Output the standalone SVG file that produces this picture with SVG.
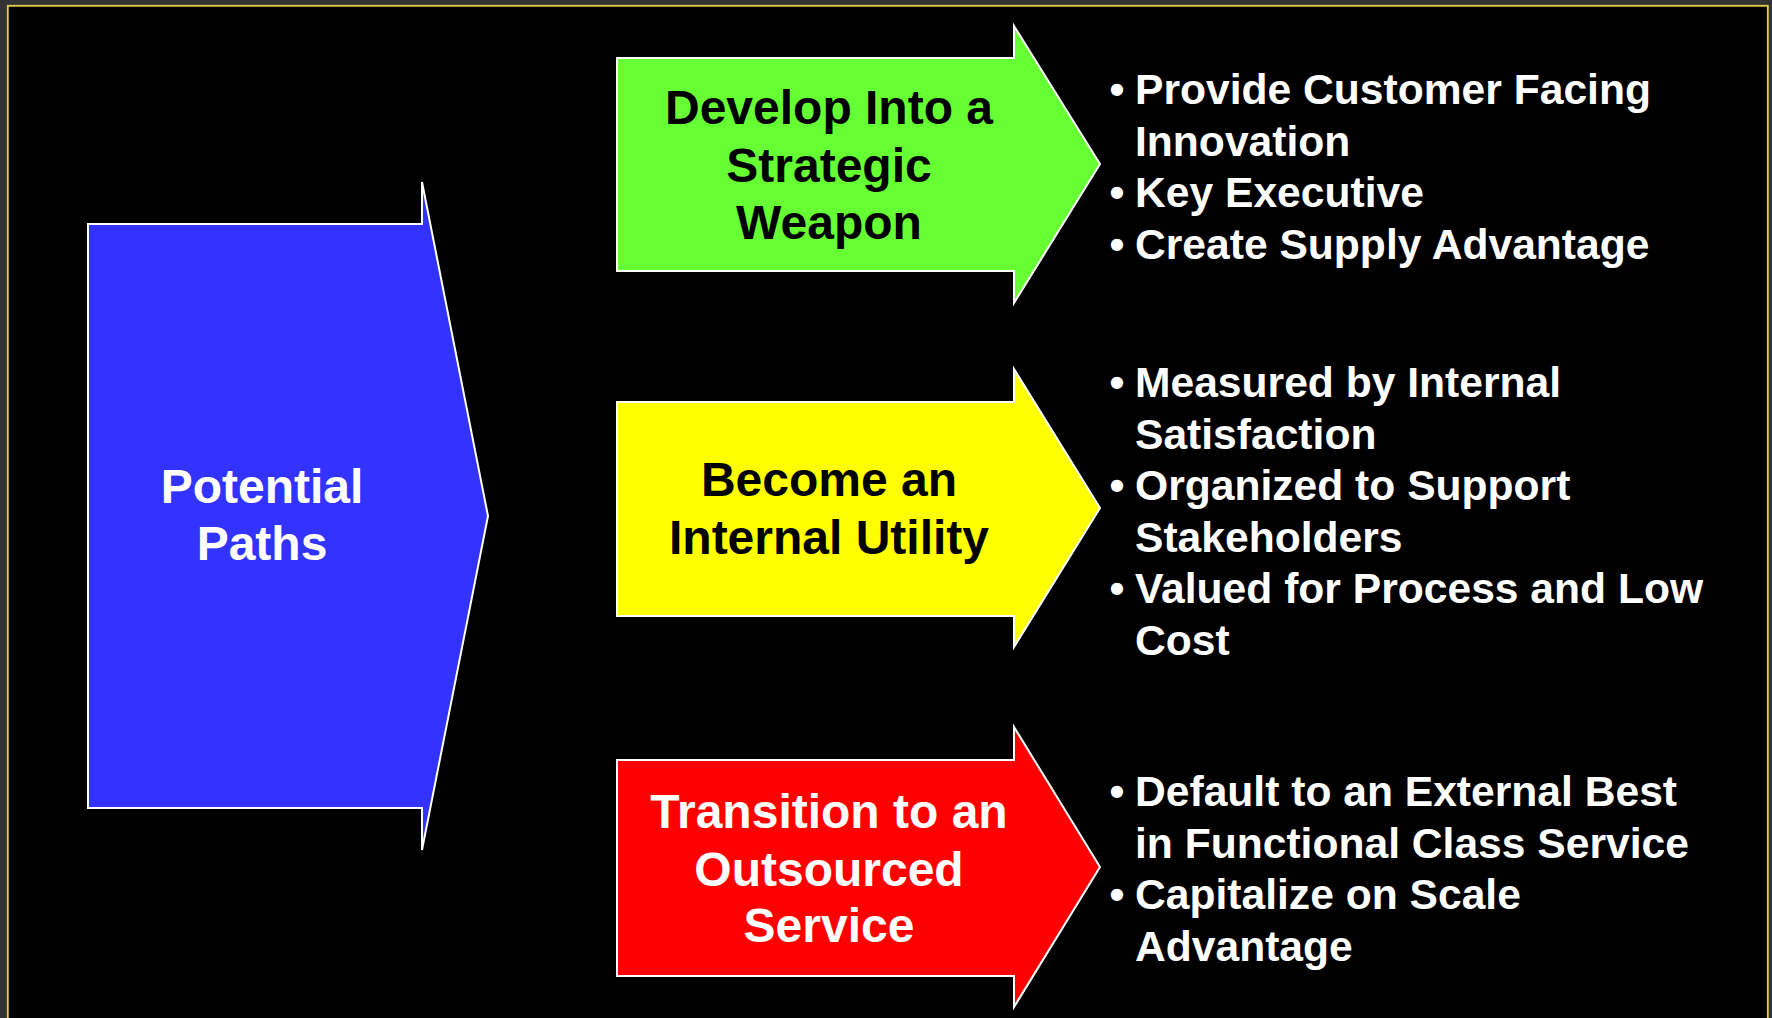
<svg xmlns="http://www.w3.org/2000/svg" width="1772" height="1018" viewBox="0 0 1772 1018">
  <style>
    .shape { stroke: #ffffff; stroke-width: 2; stroke-linejoin: miter; }
    .title { font-family: "Liberation Sans", Arial, sans-serif; font-weight: bold; font-size: 48px; text-anchor: middle; }
    .bullet { font-family: "Liberation Sans", Arial, sans-serif; font-weight: bold; font-size: 42.6px; fill: #ffffff; }
    .dot { text-anchor: middle; }
  </style>

  <!-- slide frame -->
  <rect x="0" y="0" width="1772" height="1018" fill="#333333"/>
  <rect x="7.8" y="5.8" width="1760" height="1040" fill="#000000" stroke="#e6cf4c" stroke-width="1.8"/>

  <!-- source block -->
  <g id="potential-paths">
    <polygon class="shape" fill="#3333ff" points="88,224 422,224 422,182 488,516 422,850 422,808 88,808"/>
    <text class="title" fill="#ffffff" x="262" y="503">Potential</text>
    <text class="title" fill="#ffffff" x="262" y="560">Paths</text>
  </g>

  <!-- path 1 -->
  <g id="strategic-weapon">
    <polygon class="shape" fill="#66ff33" points="617,58 1014,58 1014,26 1100,164 1014,303 1014,271 617,271"/>
    <text class="title" fill="#000000" x="829" y="124">Develop Into a</text>
    <text class="title" fill="#000000" x="829" y="182">Strategic</text>
    <text class="title" fill="#000000" x="829" y="239">Weapon</text>
  </g>
  <g id="strategic-weapon-points">
    <text class="bullet dot" x="1117" y="104">•</text>
    <text class="bullet" x="1135" y="104">Provide Customer Facing</text>
    <text class="bullet" x="1135" y="155.5">Innovation</text>
    <text class="bullet dot" x="1117" y="207">•</text>
    <text class="bullet" x="1135" y="207">Key Executive</text>
    <text class="bullet dot" x="1117" y="258.5">•</text>
    <text class="bullet" x="1135" y="258.5">Create Supply Advantage</text>
  </g>

  <!-- path 2 -->
  <g id="internal-utility">
    <polygon class="shape" fill="#ffff00" points="617,402 1014,402 1014,369 1100,508 1014,647 1014,616 617,616"/>
    <text class="title" fill="#000000" x="829" y="496">Become an</text>
    <text class="title" fill="#000000" x="829" y="554">Internal Utility</text>
  </g>
  <g id="internal-utility-points">
    <text class="bullet dot" x="1117" y="397">•</text>
    <text class="bullet" x="1135" y="397">Measured by Internal</text>
    <text class="bullet" x="1135" y="448.5">Satisfaction</text>
    <text class="bullet dot" x="1117" y="500">•</text>
    <text class="bullet" x="1135" y="500">Organized to Support</text>
    <text class="bullet" x="1135" y="551.5">Stakeholders</text>
    <text class="bullet dot" x="1117" y="603">•</text>
    <text class="bullet" x="1135" y="603">Valued for Process and Low</text>
    <text class="bullet" x="1135" y="654.5">Cost</text>
  </g>

  <!-- path 3 -->
  <g id="outsourced-service">
    <polygon class="shape" fill="#ff0000" points="617,760 1014,760 1014,727 1100,867 1014,1007 1014,976 617,976"/>
    <text class="title" fill="#ffffff" x="829" y="828">Transition to an</text>
    <text class="title" fill="#ffffff" x="829" y="886">Outsourced</text>
    <text class="title" fill="#ffffff" x="829" y="942">Service</text>
  </g>
  <g id="outsourced-service-points">
    <text class="bullet dot" x="1117" y="806">•</text>
    <text class="bullet" x="1135" y="806">Default to an External Best</text>
    <text class="bullet" x="1135" y="857.5">in Functional Class Service</text>
    <text class="bullet dot" x="1117" y="909">•</text>
    <text class="bullet" x="1135" y="909">Capitalize on Scale</text>
    <text class="bullet" x="1135" y="960.5">Advantage</text>
  </g>
</svg>
